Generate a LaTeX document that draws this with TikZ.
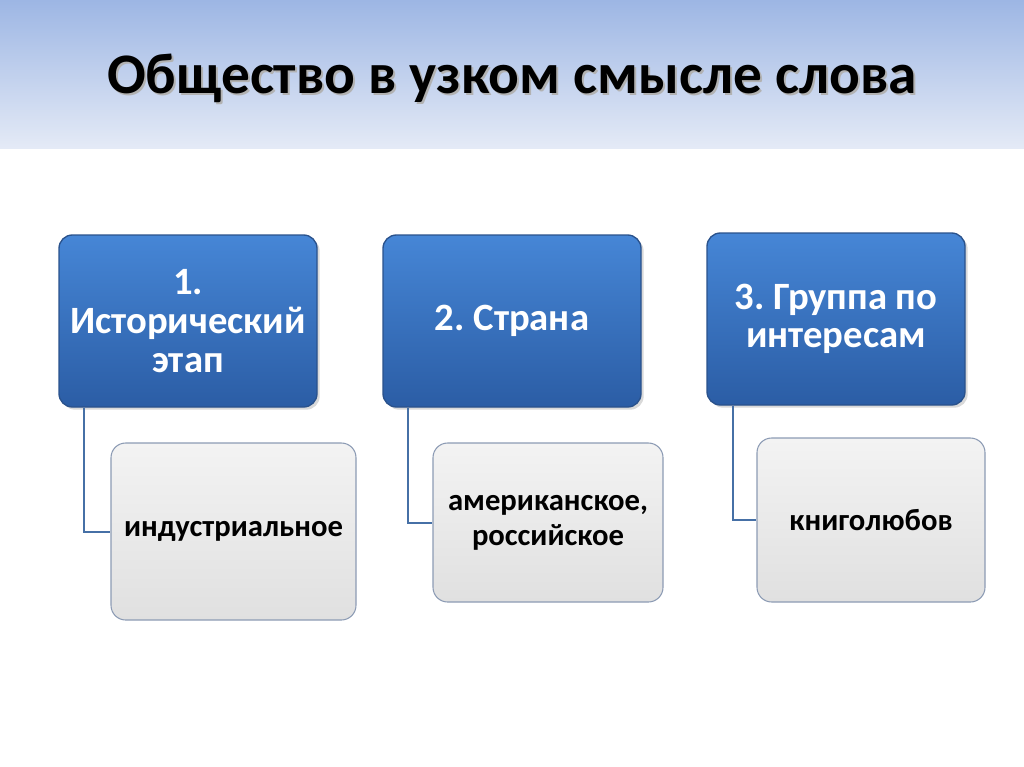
\documentclass[tikz,border=0pt]{standalone}
\usepackage{fontspec}
\setmainfont{Carlito}
\usetikzlibrary{shadows}
\frenchspacing

\definecolor{bandtop}{HTML}{9DB6E4}
\definecolor{bandbot}{HTML}{E4EAF6}
\definecolor{blueup}{HTML}{4686D6}
\definecolor{bluedn}{HTML}{2B5DA5}
\definecolor{blueedge}{HTML}{2A528C}
\definecolor{grayup}{HTML}{F3F3F3}
\definecolor{graydn}{HTML}{E0E0E0}
\definecolor{grayedge}{HTML}{8C9BB4}
\definecolor{linkcol}{HTML}{4670A6}

\tikzset{
  headbox/.style={draw=blueedge, line width=1pt, rounded corners=10pt,
    top color=blueup, bottom color=bluedn,
    drop shadow={shadow xshift=2pt, shadow yshift=-2pt, opacity=0.3},
    minimum width=193.5pt, minimum height=129pt,
    align=center, text=white, font=\fontsize{29}{29}\selectfont\bfseries},
  itembox/.style={draw=grayedge, line width=0.8pt, rounded corners=11pt,
    top color=grayup, bottom color=graydn,
    align=center, text=black,
    font=\fontsize{23}{26}\selectfont\bfseries},
  link/.style={draw=linkcol, line width=1.5pt},
}

\begin{document}
\begin{tikzpicture}[x=0.75pt, y=-0.75pt]
  \useasboundingbox (0,0) rectangle (1024,767);

  % title band
  \shade[top color=bandtop, bottom color=bandbot] (0,0) rectangle (1024,148);
  \node[text=black!30, font=\fontsize{43}{48}\selectfont\bfseries] at (514,80) {Общество в узком смысле слова};
  \node[text=black, font=\fontsize{43}{48}\selectfont\bfseries] (title) at (512,78) {Общество в узком смысле слова};

  % upper row
  \node[headbox] (hist) at (188,321) {1.\\ Исторический\\ этап};
  \node[headbox] (country) at (512,321) {2. Страна};
  \node[headbox] (group) at (836,319) {3. Группа по\\ интересам};

  % lower row
  \node[itembox, minimum width=183.75pt, minimum height=132.75pt] (indust) at (233.5,531.5) {индустриальное};
  \node[itembox, minimum width=172.5pt, minimum height=119.25pt] (amrus) at (548,522.5) {американское,\\ российское};
  \node[itembox, minimum width=171pt, minimum height=123pt] (books) at (871,520) {книголюбов};

  % connectors
  \draw[link] ([xshift=19.5pt]hist.south west) |- (indust.west);
  \draw[link] ([xshift=19pt]country.south west) |- (amrus.west);
  \draw[link] ([xshift=20pt]group.south west) |- (books.west);

\end{tikzpicture}
\end{document}
